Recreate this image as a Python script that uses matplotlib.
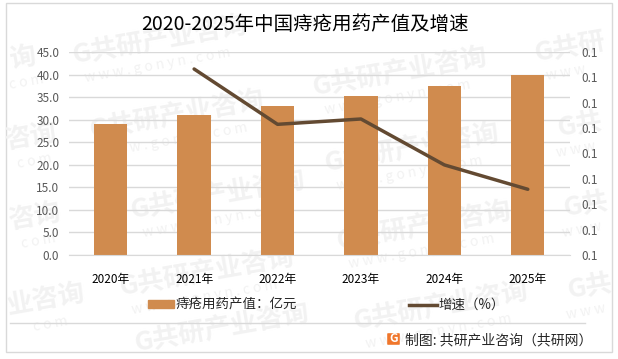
import numpy as np
import matplotlib
matplotlib.use('Agg')
import matplotlib.pyplot as plt
from matplotlib.patches import Rectangle, FancyBboxPatch
from matplotlib.lines import Line2D

plt.rcParams['font.family'] = ['Noto Sans CJK SC', 'DejaVu Sans']

# Data
years = ['2020年', '2021年', '2022年', '2023年', '2024年', '2025年']
output_value = [29.0, 31.0, 33.0, 35.2, 37.5, 39.9]
growth_years = ['2021年', '2022年', '2023年', '2024年', '2025年']
growth_rate = [0.1333, 0.1115, 0.1136, 0.0955, 0.0859]
left_ticks = [0, 5, 10, 15, 20, 25, 30, 35, 40, 45]
right_ticks = [0.06, 0.07, 0.08, 0.09, 0.10, 0.11, 0.12, 0.13, 0.14]

W, H = 618, 359
fig = plt.figure(figsize=(W / 100, H / 100), dpi=100, facecolor='white')

# background layer in pixel coords (frame, watermarks, logo)
bg = fig.add_axes([0, 0, 1, 1], zorder=0)
bg.set_xlim(0, W)
bg.set_ylim(H, 0)
bg.axis('off')
bg.add_patch(Rectangle((6, 3), 606, 349, fill=False, ec='#D9D9D9', lw=1))
bg.plot([10, 585], [323, 323], color='#D9D9D9', lw=1)

mark_color = '#F2F2F2'
# whole watermarks
marks = [(160, 40), (177, 115), (218, 195), (207, 272),
         (400, 72), (412, 148), (424, 226), (441, 306)]
for x, y in marks:
    bg.text(x, y, 'G共研产业咨询', fontsize=19, fontweight='bold', color=mark_color,
            rotation=10, ha='center', va='center', zorder=1)
    bg.text(x - 2, y + 25, 'w w w . g o n y n . c o m', fontsize=10, color=mark_color,
            rotation=10, ha='center', va='center', zorder=1)
# the last one sits on the bottom edge, it has no room for the web address
bg.text(222, 328, 'G共研产业咨询', fontsize=19, fontweight='bold', color=mark_color,
        rotation=10, ha='center', va='center', zorder=1)

# watermarks cut by the picture edge, only the visible part is written
for x, y, s in [(22, 58, '询'), (30, 137, '咨询'), (34, 217, '咨询'), (46, 300, '业咨询')]:
    bg.text(x, y, s, fontsize=19, fontweight='bold', color=mark_color, rotation=10,
            ha='center', va='center', zorder=1)
    bg.text(x + 4, y + 24, 'c o m', fontsize=10, color=mark_color, rotation=10,
            ha='center', va='center', zorder=1)
for x, y, s in [(570, 48, 'G共研'), (580, 125, 'G共'), (586, 205, 'G共'), (590, 287, 'G共')]:
    bg.text(x, y, s, fontsize=19, fontweight='bold', color=mark_color, rotation=10,
            ha='center', va='center', zorder=1)
    bg.text(x - 4, y + 25, 'w w w', fontsize=10, color=mark_color, rotation=10,
            ha='center', va='center', zorder=1)

ax = fig.add_axes([69 / W, 1 - 255 / H, 500.5 / W, 203 / H], zorder=2)
ax.patch.set_alpha(0)
x = np.arange(len(years))
bars = ax.bar(x, output_value, width=0.4, color='#D08B4E', zorder=2)
ax.set_xlim(-0.5, 5.5)
ax.set_ylim(0, 45)
ax.set_yticks(left_ticks)
ax.set_yticklabels(['%.1f' % v for v in left_ticks], fontsize=8.5, color='#595959')
ax.set_xticks(x)
ax.set_xticklabels(years, fontsize=8.5, color='black')
ax.tick_params(axis='both', length=0)
ax.tick_params(axis='x', pad=13)
ax.tick_params(axis='y', pad=7)
ax.grid(axis='y', color='#D9D9D9', lw=1, zorder=0)
ax.set_axisbelow(True)
for s in ['top', 'left', 'right']:
    ax.spines[s].set_visible(False)
ax.spines['bottom'].set_color('#D9D9D9')

ax2 = ax.twinx()
ax2.patch.set_alpha(0)
gx = [years.index(y) for y in growth_years]
line, = ax2.plot(gx, growth_rate, color='#634A32', lw=2.5, solid_capstyle='round', zorder=5)
ax2.set_ylim(0.06, 0.14)
ax2.set_yticks(right_ticks)
ax2.set_yticklabels(['%.1f' % v for v in right_ticks], fontsize=8.5, color='#595959')
ax2.tick_params(axis='y', length=0, pad=8.5)
for s in ['top', 'left', 'right', 'bottom']:
    ax2.spines[s].set_visible(False)

top = fig.add_axes([0, 0, 1, 1], zorder=3)
top.set_xlim(0, W)
top.set_ylim(H, 0)
top.axis('off')
top.text(305, 24, '2020-2025年中国痔疮用药产值及增速', fontsize=14, color='black',
         ha='center', va='center')

# legend
top.add_patch(Rectangle((148, 300), 26, 8, color='#D08B4E'))
top.text(176, 305, '痔疮用药产值：亿元', fontsize=9.7, color='#262626', va='center')
top.add_line(Line2D([409, 437], [304.5, 304.5], color='#634A32', lw=2.5))
top.text(438, 304.5, '增速（%）', fontsize=9.7, color='#262626', va='center')

# logo and source note
top.add_patch(FancyBboxPatch((388, 334), 11, 10, boxstyle='round,pad=0.8', fc='#F0762B', ec='none'))
top.text(393.5, 338.5, 'G', fontsize=8.5, fontweight='bold', color='white', ha='center', va='center')
top.text(405, 340, '制图: 共研产业咨询（共研网）', fontsize=10, color='#262626', va='center')

fig.savefig('out.png', dpi=100)
